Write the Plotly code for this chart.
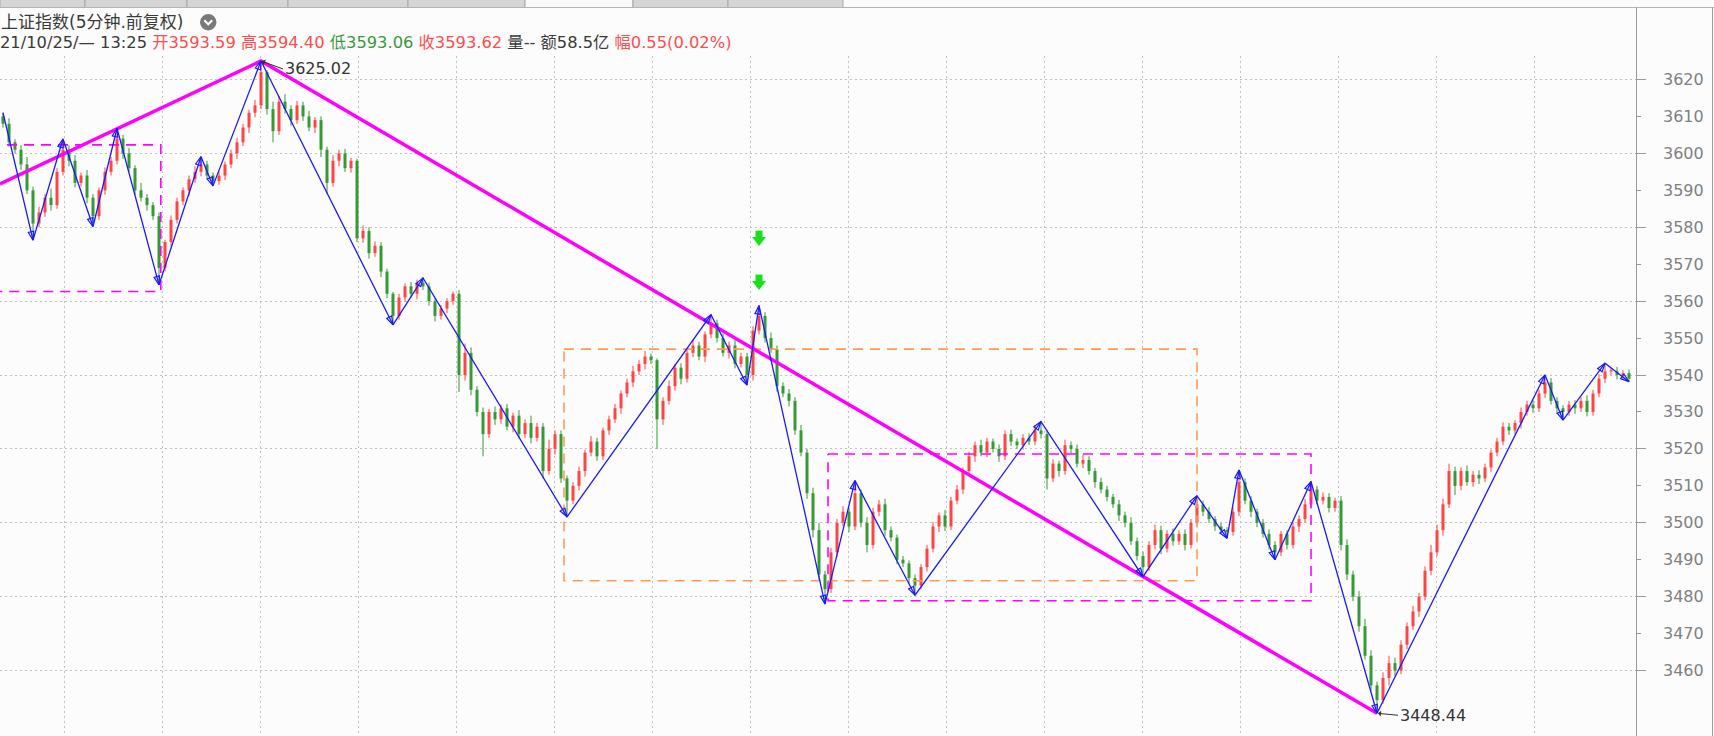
import plotly.graph_objects as go

# ---------------- data ----------------
first_open = 3610.0
close = [
    3608, 3603, 3601, 3597, 3590, 3581, 3584, 3588, 3586, 3595,
    3601, 3598, 3592, 3594, 3588, 3583, 3590, 3595, 3598, 3604,
    3600, 3596, 3590, 3588, 3586, 3583, 3569, 3576, 3582, 3587,
    3590, 3593, 3595, 3597, 3594, 3592.5, 3594, 3597, 3600, 3603,
    3607, 3611, 3613, 3622, 3612, 3606, 3614, 3612, 3609, 3613,
    3610, 3607, 3609, 3601, 3592, 3598, 3600, 3596, 3598, 3577,
    3579, 3573, 3575, 3568, 3562, 3556, 3561, 3564, 3562, 3565,
    3564, 3560, 3556, 3558, 3560, 3562, 3540, 3546, 3536, 3530,
    3524, 3530, 3528, 3531, 3526, 3529, 3524, 3527, 3523, 3526,
    3514, 3520, 3524, 3512, 3506, 3510, 3514, 3519, 3522, 3518,
    3525, 3528, 3531, 3535, 3538, 3541, 3543, 3545, 3544, 3528,
    3533, 3537, 3542, 3539, 3546, 3548, 3545, 3551, 3554, 3550,
    3546, 3548, 3543, 3545, 3540, 3552, 3556, 3550, 3547, 3537,
    3535, 3533, 3525, 3519, 3508, 3498, 3486, 3482, 3492, 3500,
    3503, 3499, 3508, 3500, 3494, 3503, 3505, 3498, 3496, 3490,
    3489, 3485, 3483, 3488, 3493, 3499, 3502, 3499, 3506, 3509,
    3514, 3518, 3521, 3519, 3522, 3520, 3518, 3524, 3522, 3521,
    3523, 3522, 3525, 3524, 3512, 3516, 3514, 3521, 3520, 3516,
    3517, 3514, 3511, 3509, 3507, 3505, 3502, 3500, 3495, 3491,
    3488, 3494, 3498, 3493, 3497, 3495, 3497, 3494, 3500, 3505,
    3503, 3501, 3499, 3498, 3497.5, 3503, 3511, 3506, 3503, 3500,
    3497, 3494, 3492, 3497, 3494, 3499, 3501, 3505, 3509, 3506,
    3507, 3504, 3506, 3494, 3486, 3480, 3472, 3464, 3456, 3452,
    3458, 3462, 3460, 3467, 3472, 3476, 3480, 3487, 3492, 3498,
    3505, 3514, 3510, 3514, 3511, 3513, 3512, 3515, 3519, 3522,
    3526, 3525, 3527, 3530, 3532, 3531, 3535, 3538, 3533, 3531,
    3530, 3532, 3531, 3533, 3530, 3535, 3539, 3541, 3541, 3540,
    3540.5, 3539,
]
wick_up = [
    1.0, 1.5, 0.8, 1.2, 2.0, 1.0, 1.5, 1.0, 2.5, 1.0,
    2.9, 1.2, 1.5, 0.8, 1.5, 1.0, 0.8, 1.2, 1.0, 2.8,
    1.0, 1.5, 0.8, 2.0, 1.0, 0.8, 1.0, 0.6, 1.2, 1.0,
    0.8, 1.0, 1.5, 2.1, 1.0, 0.8, 1.2, 0.8, 1.0, 1.2,
    1.0, 0.8, 1.5, 3.02, 0.5, 2.0, 1.5, 2.0, 1.0, 1.2,
    1.0, 1.5, 0.8, 1.0, 0.8, 1.5, 1.0, 1.2, 0.8, 0.5,
    1.5, 1.0, 1.2, 1.0, 0.8, 0.5, 1.0, 0.8, 1.2, 0.8,
    1.3, 1.0, 0.8, 1.0, 0.8, 0.6, 1.0, 2.5, 1.5, 1.0,
    1.2, 0.8, 1.5, 1.0, 1.2, 0.8, 1.5, 1.0, 2.0, 1.0,
    1.0, 2.5, 1.0, 1.0, 0.8, 1.0, 1.2, 0.8, 1.5, 1.0,
    0.8, 1.0, 1.2, 0.8, 1.0, 1.5, 1.0, 1.5, 0.8, 0.5,
    1.0, 1.5, 1.0, 1.2, 1.0, 1.5, 1.0, 0.8, 2.3, 1.0,
    1.2, 1.0, 1.5, 1.0, 1.0, 1.2, 2.8, 1.0, 1.5, 1.0,
    1.0, 1.2, 1.0, 1.5, 1.0, 1.5, 2.0, 1.0, 1.2, 1.0,
    1.5, 1.0, 3.4, 1.0, 1.5, 1.0, 1.2, 1.5, 1.0, 0.8,
    1.0, 0.8, 1.0, 0.8, 1.0, 1.2, 0.8, 1.5, 1.0, 1.2,
    1.0, 1.2, 1.0, 1.5, 1.0, 0.8, 1.2, 1.0, 1.2, 0.8,
    1.0, 1.2, 1.5, 2.4, 1.0, 1.2, 0.8, 1.5, 1.0, 1.2,
    1.5, 1.0, 0.8, 1.2, 1.0, 0.8, 1.2, 1.0, 1.5, 1.0,
    1.2, 1.0, 1.5, 1.2, 1.0, 1.5, 1.0, 1.2, 1.0, 2.3,
    1.0, 1.2, 0.8, 1.0, 0.8, 1.2, 3.3, 1.0, 1.2, 0.8,
    1.0, 1.2, 1.0, 0.8, 1.0, 1.2, 1.0, 1.5, 2.1, 1.0,
    1.2, 1.0, 0.8, 1.2, 1.5, 1.0, 1.5, 2.0, 1.5, 1.0,
    1.5, 2.0, 1.5, 1.2, 1.0, 1.5, 1.0, 1.2, 2.0, 1.5,
    1.5, 2.0, 1.2, 1.0, 1.5, 1.0, 1.2, 1.0, 0.8, 1.0,
    1.2, 1.0, 0.8, 1.2, 1.0, 1.2, 1.0, 2.0, 1.2, 1.0,
    0.8, 1.0, 1.2, 1.0, 1.5, 1.0, 1.2, 2.2, 1.0, 1.2,
    0.8, 1.0,
]
wick_dn = [
    1.0, 1.2, 1.0, 1.5, 1.0, 4.5, 1.0, 1.2, 1.5, 1.0,
    1.0, 1.5, 1.2, 1.0, 1.5, 2.8, 1.0, 1.2, 1.0, 1.0,
    1.5, 1.0, 1.2, 1.0, 1.5, 1.0, 4.6, 1.0, 1.2, 1.0,
    1.0, 1.5, 1.0, 1.2, 1.0, 1.3, 1.0, 1.2, 1.0, 1.5,
    1.0, 1.5, 1.2, 1.0, 1.5, 3.0, 1.0, 1.2, 1.5, 1.0,
    1.2, 1.0, 1.5, 2.0, 3.0, 1.0, 1.5, 1.0, 1.2, 1.0,
    1.2, 1.5, 1.0, 1.5, 1.2, 2.4, 1.0, 1.2, 1.0, 1.5,
    1.0, 1.2, 1.5, 1.0, 1.2, 1.0, 4.6, 1.5, 1.5, 1.2,
    6.0, 1.0, 1.5, 1.2, 1.0, 1.5, 1.2, 1.0, 1.5, 1.0,
    2.0, 1.0, 1.5, 1.2, 4.4, 1.0, 1.2, 1.5, 1.0, 1.2,
    1.0, 1.2, 1.0, 1.5, 1.0, 1.2, 1.0, 1.5, 1.0, 8.0,
    1.5, 1.0, 1.2, 1.5, 1.0, 1.2, 1.0, 1.5, 1.0, 1.2,
    1.0, 1.5, 1.2, 1.0, 2.7, 1.5, 1.0, 1.2, 1.0, 1.5,
    1.0, 1.5, 1.2, 1.0, 1.5, 2.0, 1.5, 4.0, 1.0, 1.2,
    1.0, 1.5, 1.0, 1.2, 2.0, 1.0, 1.2, 1.5, 1.0, 1.2,
    1.0, 1.5, 2.6, 1.0, 1.2, 1.0, 1.5, 1.2, 1.0, 1.0,
    1.2, 1.0, 1.5, 1.0, 1.2, 1.0, 1.5, 1.0, 1.2, 1.0,
    1.2, 1.0, 1.0, 1.2, 3.0, 1.0, 1.5, 1.0, 1.2, 1.0,
    1.2, 1.0, 1.5, 1.0, 1.2, 1.0, 1.5, 1.2, 1.0, 1.2,
    2.6, 1.0, 1.2, 1.5, 1.0, 1.2, 1.0, 1.5, 1.0, 1.2,
    1.2, 1.0, 1.2, 1.0, 1.7, 1.0, 1.2, 1.0, 1.5, 1.2,
    1.0, 1.2, 2.0, 1.0, 1.2, 1.0, 1.5, 1.0, 1.2, 1.0,
    1.0, 1.2, 1.0, 1.5, 1.5, 1.2, 1.5, 1.0, 1.5, 3.56,
    1.0, 2.0, 1.5, 1.0, 1.2, 1.0, 1.5, 1.0, 1.2, 1.0,
    1.5, 1.0, 2.5, 1.2, 1.0, 1.2, 1.5, 1.0, 1.2, 1.0,
    1.0, 1.2, 1.0, 1.5, 1.0, 1.2, 1.0, 1.2, 1.0, 1.5,
    2.2, 1.0, 1.5, 1.0, 1.2, 1.0, 1.0, 1.2, 1.0, 1.2,
    1.0, 0.8,
]

# zigzag pivots (bar index), alternating high / low starting with a high
zz_idx = [0, 5, 10, 15, 19, 26, 33, 35, 43, 65, 70, 94, 118, 124, 126, 137,
          142, 152, 173, 190, 199, 204, 206, 212, 218, 229, 257, 260, 267, 271]
# trend line: left edge point, major high, major low
trend_left_idx = -0.5
trend_left_price = 3591.7
trend_peak_idx = 43
trend_low_idx = 229
# dashed boxes
box_left = [-5, 93.5, 137.5]
box_right = [26.3, 199, 218]
box_top = [3602.3, 3547.0, 3518.6]
box_bottom = [3562.6, 3484.3, 3478.9]
box_color = ["#ff00ff", "#ff9a55", "#ff00ff"]
# green sell signals (arrow tip prices)
signal_idx = [126, 126]
signal_tip = [3563.0, 3574.9]
# price axis labels
y_ticks = list(range(3460, 3621, 10))
y_grid = list(range(3460, 3621, 20))
# header
hdr_title = "上证指数(5分钟.前复权)"
hdr_date = "21/10/25/— 13:25"
hdr_open, hdr_high, hdr_low, hdr_close = "3593.59", "3594.40", "3593.06", "3593.62"
hdr_amount = "58.5"
hdr_chg, hdr_pct = "0.55", "0.02"

assert len(close) == len(wick_up) == len(wick_dn)
n = len(close)

# ---------------- derived OHLC ----------------
opens = [first_open] + close[:-1]
highs = [max(o, c) + u for o, c, u in zip(opens, close, wick_up)]
lows = [min(o, c) - d for o, c, d in zip(opens, close, wick_dn)]

RED = "#ff4444"
GREEN = "#349a34"
BLUE = "#1a1aff"
MAGENTA = "#ff00ff"

W, H = 1714, 736
PL, PR, PT, PB = 0, 1636, 56, 736        # plot area in pixels
ppu = 3.694                               # pixels per index point
y_top = 3620 + (79.5 - PT) / ppu
y_bot = 3620 - (PB - 79.5) / ppu
x_lo = -0.5
x_hi = x_lo + (PR - PL) / 6.0

fig = go.Figure()

wx = {True: [], False: []}
wy = {True: [], False: []}
bx = {True: [], False: []}
by = {True: [], False: []}
for i in range(n):
    o, c, h, l = opens[i], close[i], highs[i], lows[i]
    up = c >= o
    wx[up] += [i, i, None]
    wy[up] += [l, h, None]
    c2 = c if abs(c - o) > 0.25 else o + 0.3
    bx[up] += [i, i, None]
    by[up] += [o, c2, None]

for up, col in ((True, RED), (False, GREEN)):
    fig.add_trace(go.Scatter(x=wx[up], y=wy[up], mode="lines",
                             line=dict(color=col, width=1), hoverinfo="skip"))
    fig.add_trace(go.Scatter(x=bx[up], y=by[up], mode="lines",
                             line=dict(color=col, width=3), hoverinfo="skip"))

# dashed boxes
for x0, x1, t, b, col in zip(box_left, box_right, box_top, box_bottom, box_color):
    fig.add_trace(go.Scatter(x=[x0, x1, x1, x0, x0], y=[t, t, b, b, t], mode="lines",
                             line=dict(color=col, width=1.6, dash="10px,7px"),
                             hoverinfo="skip"))

# trend line
trend_x = [trend_left_idx, trend_peak_idx, trend_low_idx]
trend_y = [trend_left_price, highs[trend_peak_idx], lows[trend_low_idx]]
fig.add_trace(go.Scatter(x=trend_x, y=trend_y, mode="lines",
                         line=dict(color=MAGENTA, width=3.5), hoverinfo="skip"))

# zigzag
zz_price = [highs[i] if k % 2 == 0 else lows[i] for k, i in enumerate(zz_idx)]
fig.add_trace(go.Scatter(x=zz_idx, y=zz_price, mode="lines+markers",
                         line=dict(color=BLUE, width=1.3, backoff=0),
                         marker=dict(symbol="arrow-open", size=9, angleref="previous",
                                     color=BLUE, line=dict(color=BLUE, width=1.2)),
                         hoverinfo="skip"))

# green arrows (triangle head + square shaft)
tri_r = 6
tri_y = [p + tri_r / ppu for p in signal_tip]
shaft_y = [p + 6.0 / ppu for p in tri_y]
fig.add_trace(go.Scatter(x=signal_idx, y=shaft_y, mode="markers",
                         marker=dict(symbol="square", size=7, color="#19e019",
                                     line=dict(width=0)), hoverinfo="skip"))
fig.add_trace(go.Scatter(x=signal_idx, y=tri_y, mode="markers",
                         marker=dict(symbol="triangle-down", size=2 * tri_r, color="#19e019",
                                     line=dict(width=0)), hoverinfo="skip"))

# overlay axis carrier (long ticks + horizontal grid)
fig.add_trace(go.Scatter(x=[None], y=[None], yaxis="y2", hoverinfo="skip"))


def pxx(xp):
    return (xp - PL) / (PR - PL)


def pyy(yp):
    return (PB - yp) / (PB - PT)


ANNOT_FONT = dict(family="DejaVu Sans, Noto Sans CJK SC", size=16, color="#333333")
annotations = [
    dict(x=trend_peak_idx, y=highs[trend_peak_idx], xref="x", yref="y",
         text=f"{highs[trend_peak_idx]:.2f}", showarrow=True, ax=22, ay=8,
         xanchor="left", yanchor="middle", arrowhead=1, arrowsize=1, arrowwidth=1,
         arrowcolor="#333333", standoff=1, font=ANNOT_FONT),
    dict(x=trend_low_idx, y=lows[trend_low_idx], xref="x", yref="y",
         text=f"{lows[trend_low_idx]:.2f}", showarrow=True, ax=21, ay=2,
         xanchor="left", yanchor="middle", arrowhead=1, arrowsize=1, arrowwidth=1,
         arrowcolor="#333333", standoff=1, font=ANNOT_FONT),
]

# price labels on the right scale
for v in y_ticks:
    annotations.append(dict(x=pxx(1661), y=v, xref="paper", yref="y", text=str(v),
                            showarrow=False, xanchor="left", yanchor="middle",
                            font=dict(family="DejaVu Sans", size=16, color="#808080")))

RT = "#ff4d4d"
GT = "#3a9a3a"
annotations.append(dict(x=pxx(-1), y=pyy(22), xref="paper", yref="paper", showarrow=False,
                        xanchor="left", yanchor="middle", text=hdr_title,
                        font=dict(family="DejaVu Sans, Noto Sans CJK SC", size=17,
                                  color="#3a3a3a")))
info = (f"{hdr_date} <span style='color:{RT}'>开{hdr_open} 高{hdr_high}</span> "
        f"<span style='color:{GT}'>低{hdr_low}</span> "
        f"<span style='color:{RT}'>收{hdr_close}</span> 量-- 额{hdr_amount}亿 "
        f"<span style='color:{RT}'>幅{hdr_chg}({hdr_pct}%)</span>")
annotations.append(dict(x=pxx(-2), y=pyy(42.5), xref="paper", yref="paper", showarrow=False,
                        xanchor="left", yanchor="middle", text=info,
                        font=dict(family="DejaVu Sans, Noto Sans CJK SC", size=16.3,
                                  color="#3a3a3a")))

shapes = []
# tab bar
tabs = [(0, 85), (85, 187), (187, 288), (288, 408), (408, 525), (525, 633), (633, 728), (728, 843)]
for k, (a, b) in enumerate(tabs):
    fill = "#fafafa" if k == 5 else "#d5d5d5"
    shapes.append(dict(type="rect", xref="paper", yref="paper", x0=pxx(a), x1=pxx(b),
                       y0=pyy(7.5), y1=pyy(-2), fillcolor=fill,
                       line=dict(color="#a8a8a8", width=1), layer="above"))
shapes.append(dict(type="line", xref="paper", yref="paper", x0=pxx(0), x1=pxx(W),
                   y0=pyy(7.5), y1=pyy(7.5), line=dict(color="#b4b4b4", width=1)))
# axis separator extension and right border
shapes.append(dict(type="line", xref="paper", yref="paper", x0=pxx(1636.5), x1=pxx(1636.5),
                   y0=pyy(7.5), y1=pyy(PT), line=dict(color="#9a9a9a", width=1)))
shapes.append(dict(type="line", xref="paper", yref="paper", x0=pxx(1712.5), x1=pxx(1712.5),
                   y0=pyy(7.5), y1=pyy(H), line=dict(color="#9a9a9a", width=1)))
# title dropdown icon
shapes.append(dict(type="circle", xref="paper", yref="paper", x0=pxx(200), x1=pxx(216.5),
                   y0=pyy(30.5), y1=pyy(14), fillcolor="#7a7a7a", line=dict(width=0)))
shapes.append(dict(type="path", xref="paper", yref="paper",
                   path=f"M{pxx(204.3)},{pyy(20.3)} L{pxx(208.25)},{pyy(24.3)} L{pxx(212.2)},{pyy(20.3)}",
                   line=dict(color="white", width=2)))

xgrid = [10.33 + 16.325 * k for k in range(16)]
GRID = "#c2c2c2"

fig.update_layout(
    width=W, height=H,
    margin=dict(l=PL, r=W - PR, t=PT, b=H - PB, pad=0),
    paper_bgcolor="#fcfcfc", plot_bgcolor="#fcfcfc",
    showlegend=False,
    annotations=annotations,
    shapes=shapes,
    xaxis=dict(range=[x_lo, x_hi], showticklabels=False, tickvals=xgrid, ticks="",
               showgrid=True, gridcolor=GRID, gridwidth=1, griddash="2px,3px",
               zeroline=False, showline=False, automargin=False, fixedrange=True),
    yaxis=dict(range=[y_bot, y_top], side="right", tickvals=y_ticks, ticks="outside",
               ticklen=4, tickcolor="#9a9a9a", tickwidth=1, showline=True,
               linecolor="#9a9a9a", linewidth=1, showgrid=False, zeroline=False,
               showticklabels=False, automargin=False, fixedrange=True),
    yaxis2=dict(range=[y_bot, y_top], side="right", overlaying="y", anchor="x",
                tickvals=y_grid, ticks="outside", ticklen=9, tickcolor="#9a9a9a",
                showticklabels=False, showgrid=True, gridcolor=GRID, gridwidth=1,
                griddash="2px,3px", zeroline=False, showline=False,
                automargin=False, fixedrange=True),
)

fig.write_html("out.html", config={"displayModeBar": False},
               post_script="document.body.style.margin='0px';document.body.style.padding='0px';")
